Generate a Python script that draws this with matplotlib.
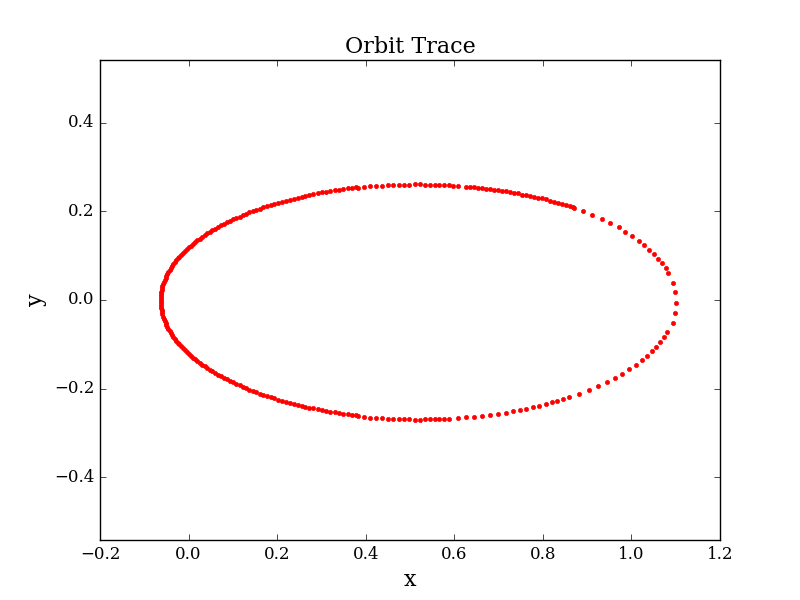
import numpy as np
import matplotlib
matplotlib.use('Agg')
import matplotlib.pyplot as plt

#Orbit trace points
#upper half, right to left (ends at the left vertex)
x_upper = [0.871, 0.862, 0.853, 0.844, 0.835, 0.826, 0.817, 0.808, 0.799, 0.790,
           0.781, 0.771, 0.762, 0.753, 0.744, 0.735, 0.726, 0.717, 0.708, 0.699,
           0.690, 0.681, 0.672, 0.663, 0.654, 0.645, 0.636, 0.627, 0.609, 0.598,
           0.587, 0.577, 0.566, 0.556, 0.545, 0.534, 0.522, 0.512, 0.498, 0.487,
           0.476, 0.462, 0.451, 0.437, 0.424, 0.410, 0.397, 0.383,
           0.378, 0.368, 0.359, 0.349, 0.339, 0.330, 0.320, 0.310, 0.301, 0.292,
           0.282, 0.273, 0.264, 0.255, 0.246, 0.237, 0.228, 0.219, 0.211, 0.202,
           0.194, 0.185, 0.177, 0.169, 0.161, 0.153, 0.145, 0.137, 0.130, 0.122,
           0.115, 0.107, 0.100, 0.093, 0.086, 0.080, 0.073, 0.067, 0.060, 0.054,
           0.048, 0.042, 0.036, 0.031, 0.025, 0.020, 0.015, 0.010, 0.005, 0.000,
           -0.004, -0.008, -0.013, -0.017, -0.021, -0.024, -0.028, -0.031, -0.035, -0.038,
           -0.040, -0.043, -0.046, -0.048, -0.050, -0.052, -0.054, -0.056, -0.057, -0.059,
           -0.060, -0.061, -0.062, -0.062, -0.063, -0.063, -0.063]
y_upper = [0.208, 0.213, 0.215, 0.217, 0.220, 0.222, 0.224, 0.229, 0.231, 0.231,
           0.233, 0.235, 0.238, 0.238, 0.242, 0.242, 0.245, 0.247, 0.247, 0.249,
           0.249, 0.251, 0.251, 0.253, 0.253, 0.256, 0.256, 0.256, 0.258, 0.258,
           0.260, 0.260, 0.260, 0.260, 0.260, 0.260, 0.263, 0.263, 0.260, 0.260,
           0.260, 0.260, 0.260, 0.258, 0.258, 0.258, 0.256, 0.254,
           0.2542, 0.2531, 0.2519, 0.2506, 0.2492, 0.2477, 0.2462, 0.2446, 0.2429, 0.2412,
           0.2393, 0.2375, 0.2355, 0.2334, 0.2313, 0.2291, 0.2269, 0.2246, 0.2222, 0.2197,
           0.2172, 0.2146, 0.2120, 0.2092, 0.2065, 0.2036, 0.2007, 0.1977, 0.1947, 0.1916,
           0.1885, 0.1853, 0.1820, 0.1787, 0.1753, 0.1719, 0.1684, 0.1649, 0.1613, 0.1577,
           0.1540, 0.1503, 0.1465, 0.1427, 0.1388, 0.1349, 0.1310, 0.1270, 0.1230, 0.1189,
           0.1149, 0.1107, 0.1066, 0.1024, 0.0981, 0.0939, 0.0896, 0.0853, 0.0810, 0.0766,
           0.0722, 0.0678, 0.0634, 0.0590, 0.0545, 0.0500, 0.0455, 0.0410, 0.0365, 0.0319,
           0.0274, 0.0228, 0.0183, 0.0137, 0.0091, 0.0046, 0.0]

#lower half, right to left
x_lower = [0.846, 0.832, 0.821, 0.808, 0.792, 0.778, 0.762, 0.749, 0.733, 0.716,
           0.699, 0.681, 0.663, 0.645, 0.627, 0.608, 0.587, 0.577, 0.566, 0.556,
           0.545, 0.534, 0.522, 0.512, 0.498, 0.487, 0.476, 0.462, 0.451, 0.437,
           0.424, 0.410, 0.397, 0.383,
           0.378, 0.368, 0.359, 0.349, 0.339, 0.330, 0.320, 0.310, 0.301, 0.292,
           0.282, 0.273, 0.264, 0.255, 0.246, 0.237, 0.228, 0.219, 0.211, 0.202,
           0.194, 0.185, 0.177, 0.169, 0.161, 0.153, 0.145, 0.137, 0.130, 0.122,
           0.115, 0.107, 0.100, 0.093, 0.086, 0.080, 0.073, 0.067, 0.060, 0.054,
           0.048, 0.042, 0.036, 0.031, 0.025, 0.020, 0.015, 0.010, 0.005, 0.000,
           -0.004, -0.008, -0.013, -0.017, -0.021, -0.024, -0.028, -0.031, -0.035, -0.038,
           -0.040, -0.043, -0.046, -0.048, -0.050, -0.052, -0.054, -0.056, -0.057, -0.059,
           -0.060, -0.061, -0.062, -0.062, -0.063, -0.063]
y_lower = [-0.223, -0.228, -0.230, -0.235, -0.239, -0.241, -0.246, -0.248, -0.250, -0.255,
           -0.257, -0.259, -0.261, -0.264, -0.264, -0.266, -0.269, -0.269, -0.269, -0.269,
           -0.269, -0.269, -0.271, -0.271, -0.268, -0.268, -0.268, -0.268, -0.268, -0.266,
           -0.266, -0.266, -0.264, -0.262,
           -0.2600, -0.2589, -0.2576, -0.2563, -0.2549, -0.2534, -0.2518, -0.2502, -0.2485, -0.2467,
           -0.2448, -0.2429, -0.2409, -0.2388, -0.2366, -0.2344, -0.2321, -0.2297, -0.2273, -0.2248,
           -0.2222, -0.2195, -0.2168, -0.2140, -0.2112, -0.2083, -0.2053, -0.2023, -0.1992, -0.1960,
           -0.1928, -0.1895, -0.1862, -0.1828, -0.1793, -0.1758, -0.1723, -0.1687, -0.1650, -0.1613,
           -0.1575, -0.1537, -0.1499, -0.1460, -0.1420, -0.1380, -0.1340, -0.1299, -0.1258, -0.1217,
           -0.1175, -0.1133, -0.1090, -0.1047, -0.1004, -0.0960, -0.0917, -0.0873, -0.0828, -0.0784,
           -0.0739, -0.0694, -0.0648, -0.0603, -0.0557, -0.0511, -0.0465, -0.0419, -0.0373, -0.0327,
           -0.0280, -0.0234, -0.0187, -0.0140, -0.0094, -0.0047]

#right end of the orbit (sparse points), top to bottom
x_right = [0.867, 0.891, 0.911, 0.933, 0.952, 0.971, 0.986, 1.001, 1.016, 1.029,
           1.040, 1.051, 1.061, 1.068, 1.078, 1.083, 1.093, 1.099, 1.101, 1.099,
           1.093, 1.081, 1.074, 1.065, 1.056, 1.046, 1.036, 1.024, 1.011, 0.995,
           0.979, 0.963, 0.945, 0.925, 0.905, 0.882, 0.860]
y_right = [0.209, 0.200, 0.192, 0.183, 0.174, 0.164, 0.153, 0.144, 0.134, 0.124,
           0.114, 0.103, 0.092, 0.083, 0.072, 0.061, 0.038, 0.018, -0.006, -0.029,
           -0.052, -0.072, -0.083, -0.094, -0.106, -0.116, -0.126, -0.135, -0.146, -0.155,
           -0.167, -0.176, -0.185, -0.194, -0.203, -0.212, -0.219]

plt.style.use('classic')
plt.rcParams['font.family'] = 'serif'

x = np.array(x_right + x_upper + x_lower)
y = np.array(y_right + y_upper + y_lower)

fig = plt.figure(figsize=(8, 6), dpi=100)
ax = fig.add_subplot(111)
ax.plot(x, y, 'r.', markersize=6)
ax.set_xlim(-0.2, 1.2)
ax.set_aspect('equal', adjustable='datalim')
ax.set_xlabel('x', fontsize=16)
ax.set_ylabel('y', fontsize=16)
ax.set_title('Orbit Trace', fontsize=16)
ax.set_yticks([-0.4, -0.2, 0.0, 0.2, 0.4])

fig.savefig('out.png', dpi=100)
